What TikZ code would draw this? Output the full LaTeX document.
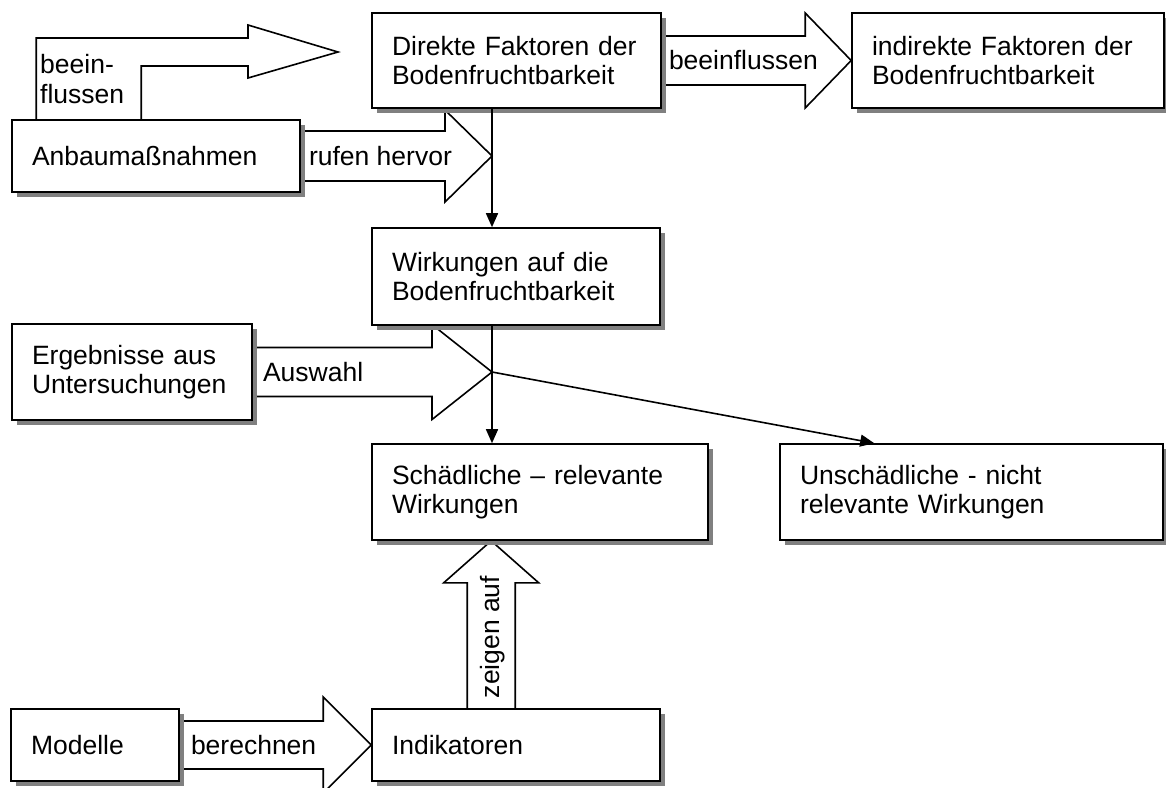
\documentclass[tikz,border=0pt]{standalone}
\usepackage{fontspec}
\setmainfont{Liberation Sans}
\usetikzlibrary{arrows.meta,calc,shadows}
\pgfdeclarelayer{background}
\pgfsetlayers{background,main}

% horizontal block arrow: start, tip, half body width, half head width, head length
\newcommand{\blkright}[5]{%
  \draw[blk] ($(#1)+(0,-#3)$) -- ($(#2)+(-#5,-#3)$) -- ($(#2)+(-#5,-#4)$) -- (#2)
    -- ($(#2)+(-#5,#4)$) -- ($(#2)+(-#5,#3)$) -- ($(#1)+(0,#3)$);}

\begin{document}
\begin{tikzpicture}[x=1pt,y=-1pt,
  every node/.style={font=\fontsize{26.5}{29.5}\selectfont},
  box/.style={draw, line width=1.6pt, fill=white, inner xsep=20pt, inner ysep=0pt,
    align=left, anchor=center,
    drop shadow={shadow xshift=5pt, shadow yshift=-5pt, fill=black!50, opacity=1}},
  blk/.style={draw, line width=1.6pt, fill=white, line join=miter},
  conn/.style={line width=1.6pt, -{Triangle[length=14pt,width=12pt]}},
  lbl/.style={inner sep=0pt, anchor=west, align=left}
]
\useasboundingbox (0,0) rectangle (1166,787);

% boxes
\node[box, text width=249pt, minimum height=95pt] (dir) at (516.5,60.5)
  {Direkte Faktoren der\\Bodenfruchtbarkeit};
\node[box, text width=272pt, minimum height=95pt] (ind) at (1008,60.5)
  {indirekte Faktoren der\\Bodenfruchtbarkeit};
\node[box, text width=248pt, minimum height=72pt] (anb) at (156,156) {Anbaumaßnahmen};
\node[box, text width=248pt, minimum height=97pt] (wir) at (516,276.5)
  {Wirkungen auf die\\Bodenfruchtbarkeit};
\node[box, text width=200pt, minimum height=96pt] (erg) at (132,372)
  {Ergebnisse aus\\Untersuchungen};
\node[box, text width=296pt, minimum height=96pt] (sch) at (540,492)
  {Schädliche – relevante\\Wirkungen};
\node[box, text width=343pt, minimum height=96pt] (uns) at (971.5,492)
  {Unschädliche - nicht\\relevante Wirkungen};
\node[box, text width=248pt, minimum height=72pt] (idk) at (516,745) {Indikatoren};
\node[box, text width=128pt, minimum height=72pt] (mod) at (95,745) {Modelle};

% junctions on the central flow line
\coordinate (j1) at (492,156);
\coordinate (j2) at (492,372);

% block arrows behind the boxes
\begin{pgfonlayer}{background}
  % bent arrow from Anbaumassnahmen towards the direct factors
  \coordinate (bs) at ($(anb.north west)+(25,0)$);
  \coordinate (bt) at (338,52);
  \draw[blk] (bs) -- ($(bs |- bt)+(0,-14)$) -- ($(bt)+(-90,-14)$) -- ($(bt)+(-90,-27)$)
    -- (bt) -- ($(bt)+(-90,26)$) -- ($(bt)+(-90,14)$) -- ($(bs |- bt)+(105,14)$)
    -- ($(bs)+(105,0)$);
  \blkright{anb.east}{j1}{25}{46}{47}
  \blkright{erg.east}{j2}{24.5}{47.5}{60}
  \blkright{dir.east}{ind.west}{24.5}{47.5}{46}
  \blkright{mod.east}{idk.west}{24}{48}{48}
  % upward arrow from the indicators
  \coordinate (zs) at ($(idk.north west)+(120,0)$);
  \coordinate (zt) at ($(sch.south west)+(120,0)$);
  \draw[blk] ($(zs)+(-24,0)$) -- ($(zt)+(-24,42)$) -- ($(zt)+(-47.5,42)$) -- (zt)
    -- ($(zt)+(47.5,42)$) -- ($(zt)+(24,42)$) -- ($(zs)+(24,0)$);
\end{pgfonlayer}

% arrow labels
\node[lbl] (l1) at (40,79) {beein-\\flussen};
\node[lbl] (l2) at ($(anb.east)+(8,0)$) {rufen hervor};
\node[lbl] (l3) at ($(erg.east)+(10,0)$) {Auswahl};
\node[lbl] (l4) at ($(dir.east)+(7,0)$) {beeinflussen};
\node[lbl] (l5) at ($(mod.east)+(11,0)$) {berechnen};
\node[inner sep=0pt, rotate=90] (l6) at (493,637) {zeigen auf};

% thin connectors
\draw[conn] (j1 |- dir.south) -- (j1 |- wir.north);
\draw[conn] (j2 |- wir.south) -- (j2 |- sch.north);
\draw[conn] (j2) -- ($(uns.north west)+(95,0)$);
\end{tikzpicture}
\end{document}
